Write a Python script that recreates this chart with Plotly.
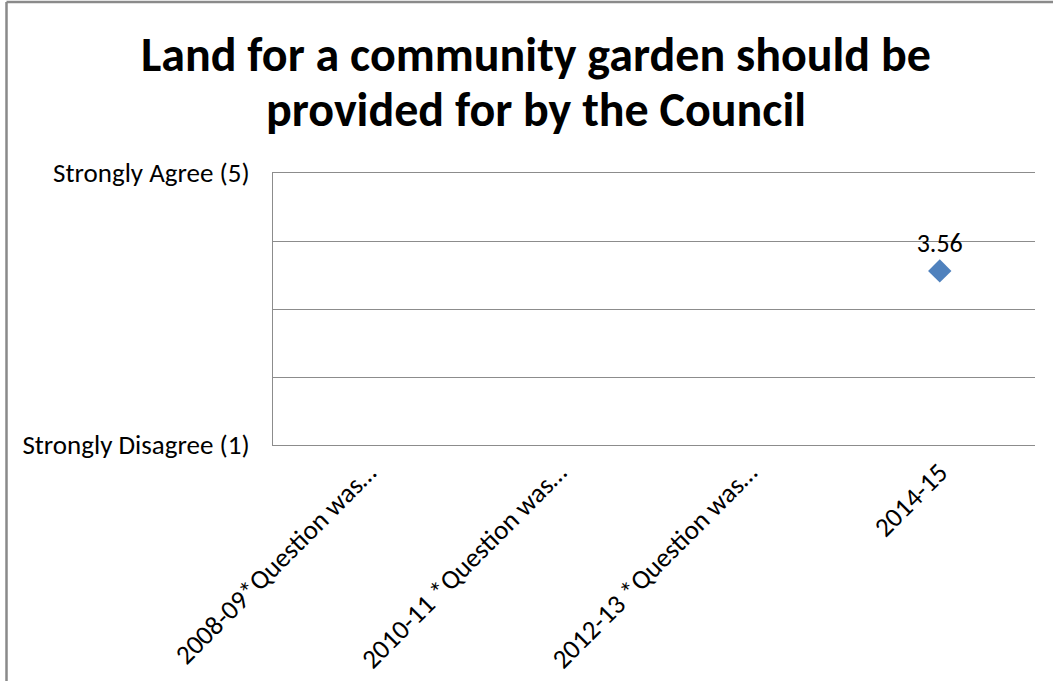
import plotly.graph_objects as go

# Survey periods and the mean agreement score recorded in each
periods = [
    "2008-09*Question was…",
    "2010-11 *Question was…",
    "2012-13 *Question was…",
    "2014-15",
]
scores = [None, None, None, 3.56]
score_labels = ["", "", "", "3.56"]

scale_vals = [1, 2, 3, 4, 5]
scale_text = ["Strongly Disagree (1)", "", "", "", "Strongly Agree (5)"]

title_lines = ["Land for a community garden should be", "provided for by the Council"]

W, H = 1053, 681
L, R, T, B = 273, 18, 173, 236
FONT = "Calibri, Carlito, Lato, sans-serif"
GRID = "#8c8c8c"

fig = go.Figure(
    go.Scatter(
        x=periods,
        y=scores,
        mode="markers+text",
        text=score_labels,
        textposition="top center",
        textfont=dict(family=FONT, size=26, color="#000000"),
        marker=dict(symbol="diamond", size=18, color="#4f81bd"),
        cliponaxis=False,
        showlegend=False,
    )
)

# Helpers to place decorations by pixel position
pw, ph = W - L - R, H - T - B
def px_x(v):
    return (v - L) / pw
def px_y(v):
    return (H - B - v) / ph

# Frame around the chart (top and left edges)
frame = dict(color="#8a8a8a", width=2.5)
fig.add_shape(type="line", xref="paper", yref="paper",
              x0=px_x(6.5), x1=px_x(W + 10), y0=px_y(2), y1=px_y(2), line=frame)
fig.add_shape(type="line", xref="paper", yref="paper",
              x0=px_x(6.5), x1=px_x(6.5), y0=px_y(2), y1=px_y(H + 10), line=frame)

# Two-line bold title
for line_text, cy in zip(title_lines, [54, 110]):
    fig.add_annotation(
        text=f"<b>{line_text}</b>",
        xref="paper", yref="paper",
        x=px_x(536), y=px_y(cy),
        xanchor="center", yanchor="middle",
        showarrow=False,
        font=dict(family=FONT, size=48, color="#000000"),
    )

fig.update_layout(
    width=W,
    height=H,
    margin=dict(l=L, r=R, t=T, b=B, autoexpand=False),
    paper_bgcolor="white",
    plot_bgcolor="white",
    font=dict(family=FONT, color="#000000"),
)

fig.update_xaxes(
    type="category",
    categoryorder="array",
    categoryarray=periods,
    range=[-0.5, 3.5],
    automargin=False,
    showgrid=False,
    showline=True,
    mirror=True,
    linecolor=GRID,
    linewidth=1,
    ticks="",
    tickangle=-45,
    tickfont=dict(family=FONT, size=27, color="#000000"),
)

fig.update_yaxes(
    range=[1, 5],
    tickvals=scale_vals,
    ticktext=scale_text,
    automargin=False,
    showgrid=True,
    gridcolor=GRID,
    gridwidth=1,
    showline=True,
    linecolor=GRID,
    linewidth=1,
    zeroline=False,
    ticks="",
    ticklabelstandoff=17,
    tickfont=dict(family=FONT, size=27, color="#000000"),
)

fig.write_html("out.html")
